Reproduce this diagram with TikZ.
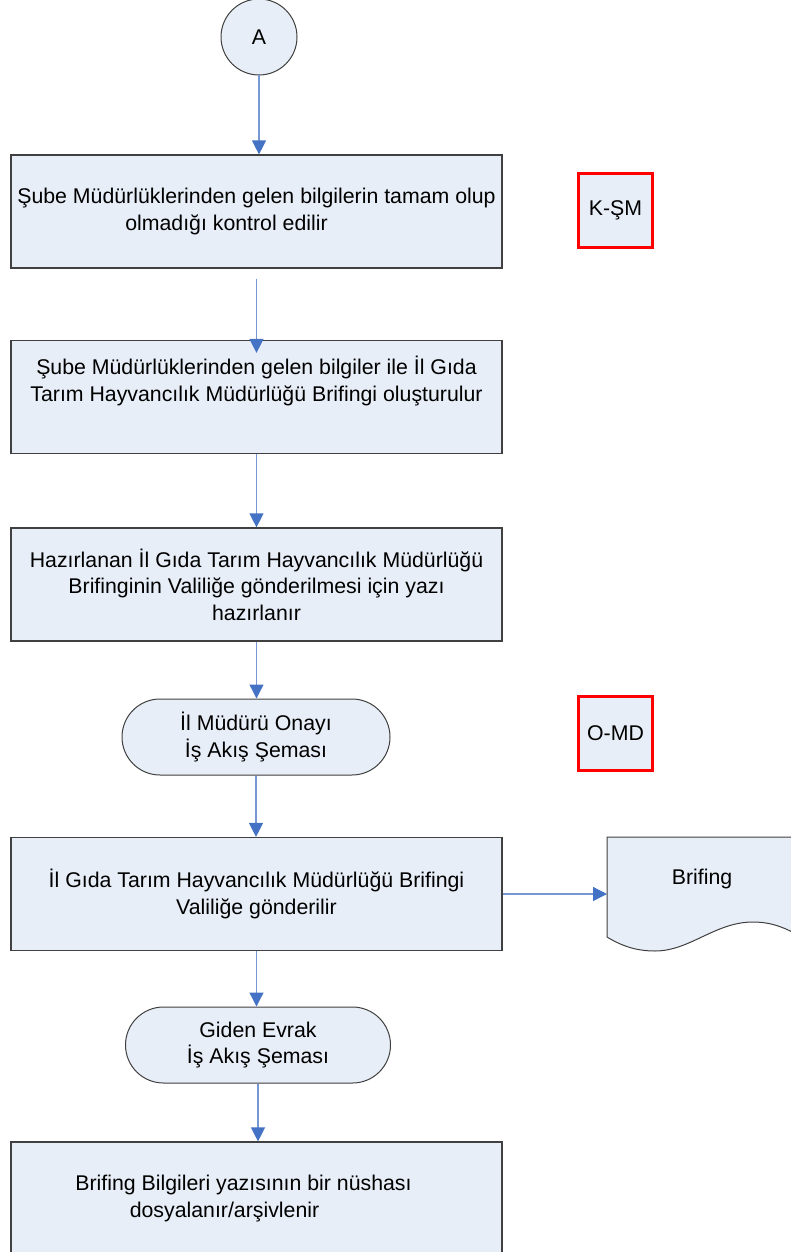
\documentclass[tikz,border=0pt]{standalone}
\usepackage{fontspec}
\setmainfont{Liberation Sans}
\usepackage{xcolor}
\usepackage{tikz}
\usetikzlibrary{arrows.meta}

\definecolor{boxfill}{RGB}{232,238,247}
\definecolor{edgegray}{RGB}{64,64,64}
\definecolor{flowblue}{RGB}{118,152,212}
\definecolor{tipblue}{RGB}{68,114,196}
\newcommand{\bodyfont}{\fontsize{21.3}{26.5}\selectfont}

\begin{document}
\begin{tikzpicture}[
  x=1pt, y=-1pt,
  >={Triangle[width=14pt,length=14pt,color=tipblue]},
  proc/.style={draw=edgegray, line width=1.2pt, fill=boxfill,
               minimum width=491pt, minimum height=113pt,
               inner sep=0pt, align=center, font=\bodyfont},
  term/.style={draw=edgegray, line width=1pt, fill=boxfill,
               rounded corners=38pt, minimum height=76pt,
               inner sep=0pt, align=center, font=\bodyfont},
  conn/.style={circle, draw=edgegray, line width=1pt, fill=boxfill,
               minimum size=76pt, inner sep=0pt, font=\bodyfont},
  code/.style={draw=red, line width=3pt, fill=boxfill,
               minimum size=74pt, inner sep=0pt, font=\bodyfont},
  flow/.style={->, draw=flowblue, line width=1.3pt},
]
\useasboundingbox (0,0) rectangle (791,1252);
\clip (0,0) rectangle (791,1252);

% === Connector and first check ===
\node[conn] (A) at (259,37) {A};

\node[proc] (check) at (256.5,211.5)
  {Şube Müdürlüklerinden gelen bilgilerin tamam olup\\
   olmadığı kontrol edilir\hspace*{60pt}};

\node[code] (ksm) at (615.5,210.5) {K-ŞM};

% === Briefing preparation ===
\node[proc, text depth=36pt] (build) at (256.5,397)
  {Şube Müdürlüklerinden gelen bilgiler ile İl Gıda\\
   Tarım Hayvancılık Müdürlüğü Brifingi oluşturulur};

\node[proc] (letter) at (256.5,584.5)
  {Hazırlanan İl Gıda Tarım Hayvancılık Müdürlüğü\\
   Brifinginin Valiliğe gönderilmesi için yazı\\
   hazırlanır};

\node[term, minimum width=268pt] (onay) at (256,737)
  {İl Müdürü Onayı\\İş Akış Şeması};

\node[code] (omd) at (615.5,733) {O-MD};

% === Sending to the governorship ===
\node[proc] (send) at (256.5,894)
  {İl Gıda Tarım Hayvancılık Müdürlüğü Brifingi\\
   Valiliğe gönderilir};

\draw[edgegray, line width=1pt, fill=boxfill]
  (607,837) -- (810,837) -- (810,942)
  .. controls (790,930) and (775,922) .. (753,922)
  .. controls (715,922) and (690,951) .. (655,951)
  .. controls (640,951) and (625,948) .. (607,937) -- cycle;
\node[font=\bodyfont] (brifing) at (702,879) {Brifing};
\coordinate (docin) at (607,894);

\node[term, minimum width=265pt] (giden) at (258,1045)
  {Giden Evrak\\İş Akış Şeması};

\node[proc] (archive) at (256.5,1198.5)
  {Brifing Bilgileri yazısının bir nüshası\hspace*{26pt}\\
   dosyalanır/arşivlenir\hspace*{64pt}};

% === Flow ===
\draw[flow] (A) -- (A |- check.north);
\draw[flow, shorten <=10pt, shorten >=-13pt] (check) -- (build);
\draw[flow] (build) -- (letter);
\draw[flow] (letter) -- (letter |- onay.north);
\draw[flow] (onay) -- (onay |- send.north);
\draw[flow] (send) -- (docin);
\draw[flow] (send) -- (send |- giden.north);
\draw[flow] (giden) -- (giden |- archive.north);

\end{tikzpicture}
\end{document}
